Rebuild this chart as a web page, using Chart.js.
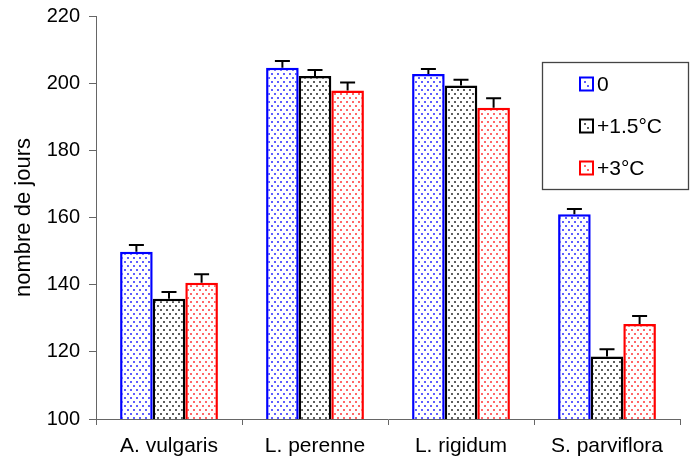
<!DOCTYPE html>
<html>
<head>
<meta charset="utf-8">
<script src="https://cdn.jsdelivr.net/npm/chart.js@4/dist/chart.umd.min.js"></script>
<style>
  html, body { margin: 0; padding: 0; background: #fff; }
  #wrap { width: 690px; height: 465px; }
</style>
</head>
<body>
<div id="wrap"><canvas id="c" width="690" height="465"></canvas></div>
<script>
// Species on the x axis
const categories = ['A. vulgaris', 'L. perenne', 'L. rigidum', 'S. parviflora'];
// Series labels (warming treatments)
const seriesLabels = ['0', '+1.5°C', '+3°C'];
// Mean number of days per treatment
const daysBase = [149.8, 204.6, 202.7, 161.0];
const daysPlus15 = [135.8, 202.1, 199.3, 118.6];
const daysPlus3 = [140.6, 197.8, 192.7, 128.3];
// Upper error (standard error) per treatment
const errBase = [2.0, 2.0, 1.5, 1.5];
const errPlus15 = [2.0, 1.8, 1.7, 2.2];
const errPlus3 = [2.5, 2.4, 2.8, 2.4];
// Y axis ticks
const yTicks = [100, 120, 140, 160, 180, 200, 220];

const FONT = '"Liberation Sans", Arial, sans-serif';

// Dotted fill on white, as used for each series
function dotPattern(color) {
  const c = document.createElement('canvas');
  c.width = 6; c.height = 8;
  const g = c.getContext('2d');
  g.fillStyle = '#ffffff';
  g.fillRect(0, 0, 6, 8);
  g.fillStyle = color;
  g.fillRect(1, 1, 2, 2);
  g.fillRect(4, 5, 2, 2);
  return g.createPattern(c, 'repeat');
}

const ctxEl = document.getElementById('c');
const ctx = ctxEl.getContext('2d');

const seriesColors = ['#0000ff', '#000000', '#ff0000'];
const dotColors = ['rgba(40,40,255,0.75)', 'rgba(40,40,40,0.75)', 'rgba(255,40,40,0.7)'];
const seriesValues = [daysBase, daysPlus15, daysPlus3];
const seriesErrors = [errBase, errPlus15, errPlus3];

const datasets = seriesLabels.map((label, i) => ({
  label: label,
  data: seriesValues[i],
  errors: seriesErrors[i],
  backgroundColor: dotPattern(dotColors[i]),
  borderColor: seriesColors[i],
  borderWidth: 2.5,
  borderSkipped: false,
  categoryPercentage: 0.67,
  barPercentage: 1.0
}));

// Upward error bars with caps
const errorBars = {
  id: 'errorBars',
  afterDatasetsDraw(chart) {
    const c = chart.ctx;
    const y = chart.scales.y;
    c.save();
    c.strokeStyle = '#000';
    c.lineWidth = 2;
    chart.data.datasets.forEach((ds, di) => {
      const meta = chart.getDatasetMeta(di);
      meta.data.forEach((bar, idx) => {
        const v = ds.data[idx];
        const e = ds.errors[idx];
        const x = bar.x;
        const yTop = y.getPixelForValue(v + e);
        const yBar = y.getPixelForValue(v);
        c.beginPath();
        c.moveTo(x, yBar);
        c.lineTo(x, yTop);
        c.moveTo(x - 7.5, yTop);
        c.lineTo(x + 7.5, yTop);
        c.stroke();
      });
    });
    c.restore();
  }
};

// Boxed legend inside the plot area
const boxLegend = {
  id: 'boxLegend',
  afterDraw(chart) {
    const c = chart.ctx;
    const left = 542.5, top = 62.5, w = 146, h = 127;
    c.save();
    c.fillStyle = '#fff';
    c.fillRect(left, top, w, h);
    c.strokeStyle = '#444';
    c.lineWidth = 1.3;
    c.strokeRect(left, top, w, h);
    const rowsY = [84, 126, 168];
    chart.data.datasets.forEach((ds, i) => {
      const cy = rowsY[i];
      c.fillStyle = '#fff';
      c.fillRect(580, cy - 6.5, 13, 13);
      c.fillStyle = dotColors[i];
      c.fillRect(584, cy - 3, 2, 2);
      c.fillRect(587, cy + 1, 2, 2);
      c.strokeStyle = ds.borderColor;
      c.lineWidth = 2;
      c.strokeRect(580, cy - 6.5, 13, 13);
      c.fillStyle = '#000';
      c.font = '21px ' + FONT;
      c.textBaseline = 'middle';
      c.textAlign = 'left';
      c.fillText(ds.label, 597, cy + 1);
    });
    c.restore();
  }
};

new Chart(ctx, {
  type: 'bar',
  data: { labels: categories, datasets: datasets },
  options: {
    responsive: false,
    animation: false,
    layout: { padding: { top: 0, right: 10, left: 0, bottom: 0 } },
    plugins: {
      legend: { display: false },
      tooltip: { enabled: false }
    },
    scales: {
      x: {
        grid: { drawOnChartArea: false, drawTicks: true, tickLength: 6, color: '#666', offset: true },
        border: { display: true, color: '#666', width: 1 },
        ticks: { color: '#000', font: { family: FONT, size: 21 }, padding: 9, maxRotation: 0 },
        afterFit(s) { s.height = 46; }
      },
      y: {
        min: 100, max: 220,
        afterBuildTicks(s) { s.ticks = yTicks.map(v => ({ value: v })); },
        grid: { drawOnChartArea: false, drawTicks: true, tickLength: 7, color: '#666' },
        border: { display: true, color: '#666', width: 1 },
        ticks: { color: '#000', font: { family: FONT, size: 20 }, padding: 9 },
        title: { display: true, text: 'nombre de jours', color: '#000', font: { family: FONT, size: 22 }, padding: { top: 11, bottom: 0 } },
        afterFit(s) { s.width = 96; s.paddingTop = 16; s.paddingBottom = 0; }
      }
    }
  },
  plugins: [errorBars, boxLegend]
});
</script>
</body>
</html>
